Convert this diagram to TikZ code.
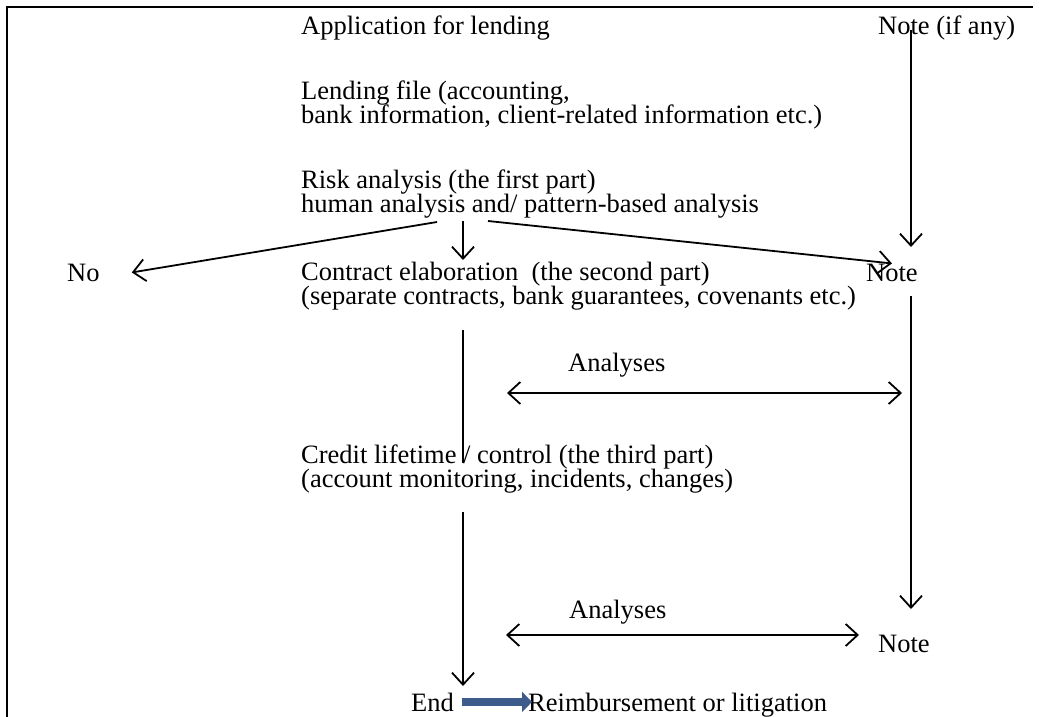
\documentclass[tikz,border=0pt]{standalone}
\usepackage{fontspec}
\setmainfont{Liberation Serif}
\usetikzlibrary{arrows.meta}
\definecolor{blockblue}{RGB}{61,92,140}
\setlength{\lineskiplimit}{-30pt}

\begin{document}
\begin{tikzpicture}[x=1pt, y=-1pt,
    txt/.style={anchor=west, inner sep=0pt, align=left, font=\fontsize{26.5}{24}\selectfont},
    line/.style={txt, anchor=base west},
    arr/.style={line width=1.8pt, -{Straight Barb[length=12pt,width=22pt]}},
    dblarr/.style={line width=1.8pt, {Straight Barb[length=12pt,width=22pt]}-{Straight Barb[length=12pt,width=22pt]}},
    thinline/.style={line width=1.3pt},
    blockarr/.style={draw=blockblue, line width=8pt, -{Triangle[length=10pt,width=20pt]}}]
  \useasboundingbox (0,0) rectangle (1039,717);
  % Frame
  \draw[line width=2.5pt] (7,717) -- (7,7) -- (1033,7);

  % Nodes
  \node[line] at (301, 35) (apply) {Application for lending};
  \node[line] at (878, 35) (ifany) {Note (if any)};
  \node[txt] at (301, 104.6) (file) {Lending file (accounting,\\bank information, client-related information etc.)};
  \node[txt] at (301, 193.6) (risk) {Risk analysis (the first part)\\human analysis and/ pattern-based analysis};
  \node[line] at (67, 281) (no) {No};
  \node[txt] at (301, 286.6) (contract) {Contract elaboration\ \ (the second part)\\(separate contracts, bank guarantees, covenants etc.)};
  \node[line] at (866, 281) (noteA) {Note};
  \node[line] at (568, 371) (analysesA) {Analyses};
  \node[txt] at (301, 468.6) (credit) {Credit lifetime / control (the third part)\\(account monitoring, incidents, changes)};
  \node[line] at (569, 618) (analysesB) {Analyses};
  \node[line] at (878, 652) (noteB) {Note};
  \node[line] at (411, 711) (endnode) {End};
  \node[line] at (528, 711) (reimb) {Reimbursement or litigation};

  % Free ends
  \coordinate (drop) at (911, 30);
  \coordinate (splitL) at (437, 222);
  \coordinate (split) at (463, 221);
  \coordinate (splitR) at (488, 221);
  \coordinate (lineTop) at (463, 330);
  \coordinate (lineBot) at (463, 463);
  \coordinate (fallTop) at (463, 512);
  \coordinate (fallBot) at (463, 686);
  \coordinate (rightTop) at (911, 296);
  \coordinate (rightBot) at (911, 609);
  \coordinate (dA1) at (507, 393);
  \coordinate (dA2) at (902, 393);
  \coordinate (dB1) at (506, 635);
  \coordinate (dB2) at (859, 635);

  \draw[arr] (drop) -- (drop |- 0,247);
  \draw[arr] (splitL) -- ([xshift=32pt]no.east);
  \draw[arr] (split) -- (split |- 0,260);
  \draw[arr] (splitR) -- (noteA.north);
  \draw[thinline] (lineTop) -- (lineBot);
  \draw[dblarr] (dA1) -- (dA2);
  \draw[arr] (rightTop) -- (rightBot);
  \draw[arr] (fallTop) -- (fallBot);
  \draw[dblarr] (dB1) -- (dB2);
  \draw[blockarr] ([xshift=8pt]endnode.east) -- ([xshift=4pt]endnode.east -| reimb.west);
\end{tikzpicture}
\end{document}
